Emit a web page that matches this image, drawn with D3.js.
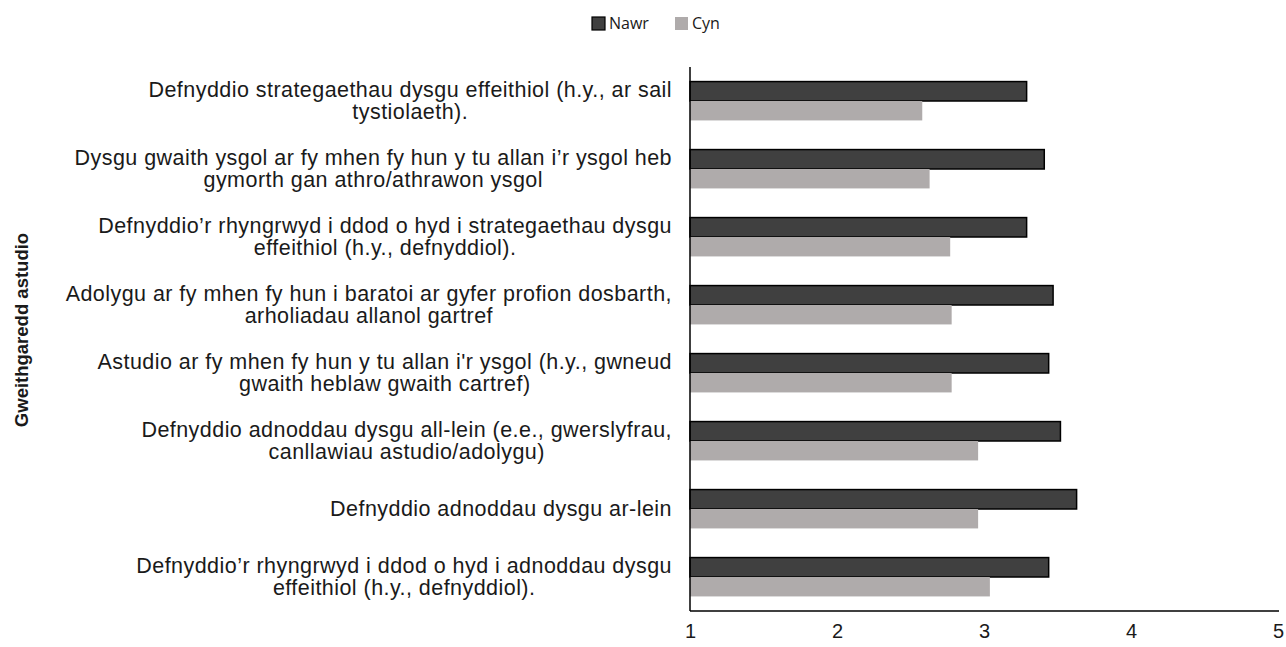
<!DOCTYPE html>
<html>
<head>
<meta charset="utf-8">
<script src="https://cdn.jsdelivr.net/npm/d3@7"></script>
<style>
  body { margin: 0; background: #fff; }
  text { font-family: "Liberation Sans", Arial, sans-serif; fill: #1a1a1a; }
</style>
</head>
<body>
<script>
// categories, top to bottom (each is an array of lines)
var categories = [
  ["Defnyddio strategaethau dysgu effeithiol (h.y., ar sail", "tystiolaeth)."],
  ["Dysgu gwaith  ysgol ar fy mhen fy hun y tu allan i\u2019r ysgol heb", "gymorth gan athro/athrawon ysgol"],
  ["Defnyddio\u2019r rhyngrwyd  i ddod o hyd i strategaethau dysgu", "effeithiol (h.y., defnyddiol)."],
  ["Adolygu ar fy mhen fy hun i baratoi ar gyfer profion dosbarth,", "arholiadau allanol gartref"],
  ["Astudio ar fy mhen fy hun y tu allan i'r ysgol (h.y., gwneud", "gwaith heblaw gwaith cartref)"],
  ["Defnyddio adnoddau dysgu all-lein (e.e., gwerslyfrau,", "canllawiau astudio/adolygu)"],
  ["Defnyddio adnoddau dysgu ar-lein"],
  ["Defnyddio\u2019r rhyngrwyd  i ddod o hyd i adnoddau dysgu", "effeithiol (h.y., defnyddiol)."]
];
var nawr = [3.29, 3.41, 3.29, 3.47, 3.44, 3.52, 3.63, 3.44];
var cyn  = [2.58, 2.63, 2.77, 2.78, 2.78, 2.96, 2.96, 3.04];
var seriesNames = ["Nawr", "Cyn"];
var seriesColors = ["#404040", "#afabab"];
var xTicks = [1, 2, 3, 4, 5];

var W = 1286, H = 647;
var margin = { left: 690, right: 8, top: 67, bottom: 36 };

var svg = d3.select("body").append("svg")
  .attr("width", W).attr("height", H);

var x = d3.scaleLinear().domain([1, 5]).range([margin.left, 1278]);
var y = d3.scaleBand().domain(d3.range(categories.length))
  .range([margin.top, H - margin.bottom]);
var inner = d3.scaleBand().domain([0, 1])
  .range([0, y.bandwidth()]).paddingOuter(0.75);

var rows = categories.map(function(c, i) {
  return { i: i, lines: c, vals: [nawr[i], cyn[i]] };
});

var group = svg.selectAll("g.cat").data(rows).enter().append("g")
  .attr("class", "cat")
  .attr("transform", function(d) { return "translate(0," + y(d.i) + ")"; });

group.selectAll("rect").data(function(d) { return d.vals; }).enter().append("rect")
  .attr("x", x(1))
  .attr("y", function(d, j) { return inner(j); })
  .attr("width", function(d) { return x(d) - x(1); })
  .attr("height", inner.bandwidth())
  .attr("fill", function(d, j) { return seriesColors[j]; })
  .attr("stroke", function(d, j) { return j === 0 ? "#000" : "none"; })
  .attr("stroke-width", 1.5);

// category labels: lines centered within a block right-aligned at 672
var labelRight = 672;
group.each(function(d) {
  var g = d3.select(this);
  var t = g.append("text")
    .style("font-size", "21.5px").style("letter-spacing", "0.45px")
    .attr("text-anchor", "middle");
  var n = d.lines.length;
  var spans = d.lines.map(function(line, k) {
    return t.append("tspan").text(line)
      .attr("y", y.bandwidth() / 2 + (k - (n - 1) / 2) * 22 + 7);
  });
  var maxW = d3.max(spans, function(s) { return s.node().getComputedTextLength(); });
  spans.forEach(function(s) { s.attr("x", labelRight - maxW / 2); });
});

// axes lines
svg.append("line")
  .attr("x1", x(1)).attr("x2", x(1))
  .attr("y1", margin.top).attr("y2", H - margin.bottom)
  .attr("stroke", "#000").attr("stroke-width", 1.5);
svg.append("line")
  .attr("x1", x(1)).attr("x2", 1279)
  .attr("y1", H - margin.bottom).attr("y2", H - margin.bottom)
  .attr("stroke", "#000").attr("stroke-width", 1.5);

var xAxis = d3.axisBottom(x).tickValues(xTicks).tickFormat(d3.format("d"))
  .tickSize(0).tickPadding(13);
var xg = svg.append("g").attr("transform", "translate(0," + (H - margin.bottom) + ")").call(xAxis);
xg.select(".domain").remove();
xg.selectAll("text").style("font-size", "20px")
  .style("font-family", "'Liberation Sans', Arial, sans-serif").attr("fill", "#1a1a1a");

// y title
svg.append("text")
  .attr("transform", "translate(28,330) rotate(-90)")
  .attr("text-anchor", "middle")
  .style("font-size", "18.5px").style("font-weight", "bold")
  .text("Gweithgaredd astudio");

// legend
var legend = svg.append("g").attr("transform", "translate(592,17)");
var lx = [0, 83];
seriesNames.forEach(function(name, j) {
  var lg = legend.append("g").attr("transform", "translate(" + lx[j] + ",0)");
  lg.append("rect").attr("width", 13).attr("height", 13)
    .attr("fill", seriesColors[j])
    .attr("stroke", j === 0 ? "#000" : "none").attr("stroke-width", 1.2);
  lg.append("text").attr("x", 17).attr("y", 12)
    .style("font-family", "'Open Sans', sans-serif").style("font-size", "16px")
    .text(name);
});
</script>
</body>
</html>
